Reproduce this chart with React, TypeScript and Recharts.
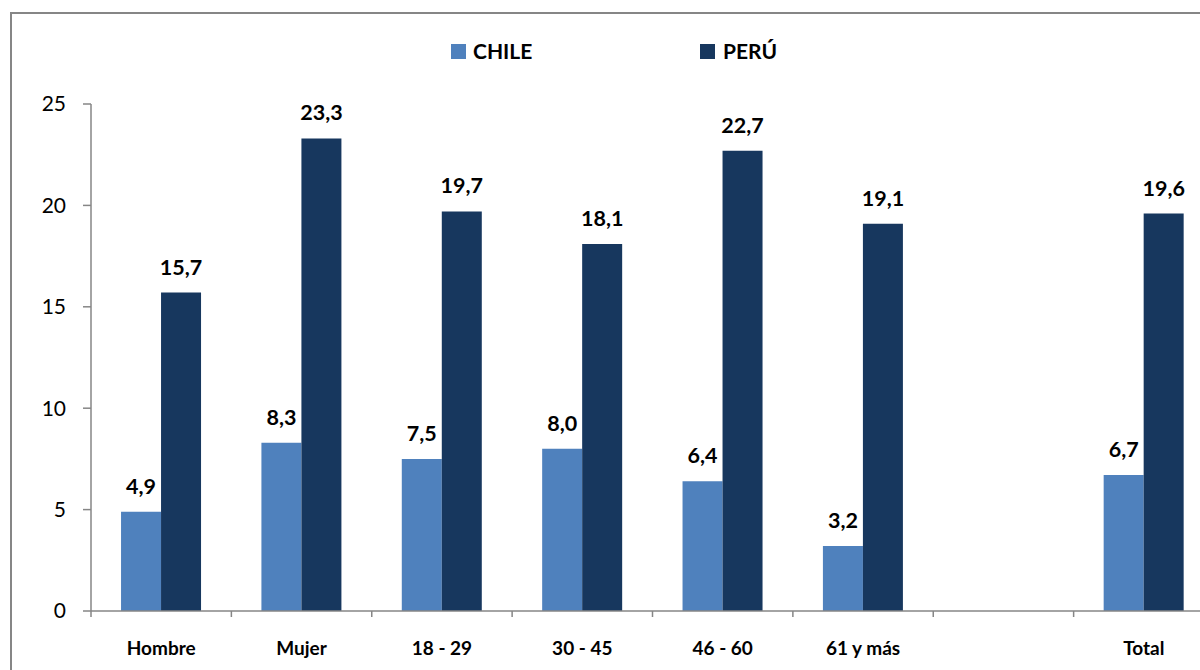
import React from "react";
import { BarChart, Bar, XAxis, YAxis, LabelList, Legend } from "recharts";

const categories = ["Hombre", "Mujer", "18 - 29", "30 - 45", "46 - 60", "61 y más", "", "Total"];
const chileValues: (number | null)[] = [4.9, 8.3, 7.5, 8.0, 6.4, 3.2, null, 6.7];
const peruValues: (number | null)[] = [15.7, 23.3, 19.7, 18.1, 22.7, 19.1, null, 19.6];
const yTicks = [0, 5, 10, 15, 20, 25];

const data = categories.map((c, i) => ({ name: c, chile: chileValues[i], peru: peruValues[i] }));

const FONT = "Lato, 'Open Sans', sans-serif";
const AXIS = "#868686";
const CHILE = "#4F81BD";
const PERU = "#17375E";

const fmt = (v: any) => (v == null ? "" : Number(v).toFixed(1).replace(".", ","));

const XTick = (props: any) => {
  const { x, y, payload, width, visibleTicksCount } = props;
  const half = width / visibleTicksCount / 2;
  return (
    <g>
      <line x1={x - half} x2={x - half} y1={y - 6} y2={y} stroke={AXIS} strokeWidth={1.5} />
      <text x={x} y={y + 31} dy="0.35em" textAnchor="middle" fontFamily={FONT} fontWeight="bold" fontSize={19} fill="#000">
        {payload.value}
      </text>
    </g>
  );
};

const ValueLabel = (props: any) => {
  const { x, y, width, value } = props;
  if (value == null) return null;
  return (
    <text x={x + width / 2} y={y - 18} textAnchor="middle" fontFamily={FONT} fontWeight="bold" fontSize={21.5} fill="#000">
      {fmt(value)}
    </text>
  );
};

const LegendContent = () => (
  <div style={{ position: "relative", height: 0 }}>
    <div style={{ position: "absolute", left: 451, top: 44, width: 15, height: 15, background: CHILE }} />
    <div style={{ position: "absolute", left: 473, top: 38, fontFamily: FONT, fontWeight: "bold", fontSize: 21, lineHeight: "26px", color: "#000" }}>CHILE</div>
    <div style={{ position: "absolute", left: 700, top: 44, width: 15, height: 15, background: PERU }} />
    <div style={{ position: "absolute", left: 723, top: 38, fontFamily: FONT, fontWeight: "bold", fontSize: 21, lineHeight: "26px", color: "#000" }}>PERÚ</div>
  </div>
);

export default function App() {
  return (
    <div style={{ position: "fixed", left: 0, top: 0, width: 1200, height: 670, overflow: "hidden", background: "#fff" }}>
      <div style={{ position: "absolute", left: 10, top: 12, width: 1300, height: 800, border: `2px solid ${AXIS}`, boxSizing: "border-box" }} />
      <div style={{ position: "absolute", left: 0, top: 0 }}>
        <BarChart width={1214} height={670} data={data} margin={{ top: 104, right: 0, bottom: 0, left: 0 }} barCategoryGap="21.4%" barGap={0}>
          <Legend verticalAlign="top" wrapperStyle={{ left: 0, top: 0, width: 1214, height: 0 }} content={() => <LegendContent />} />
          <XAxis dataKey="name" height={59} interval={0} tickLine={false} tickSize={6} tickMargin={0} axisLine={{ stroke: AXIS, strokeWidth: 1.5 }} tick={<XTick />} />
          <YAxis width={91} domain={[0, 25]} ticks={yTicks} interval={0} tickSize={8} tickMargin={17} axisLine={{ stroke: AXIS, strokeWidth: 1.5 }} tickLine={{ stroke: AXIS, strokeWidth: 1.5 }} tick={{ fontFamily: FONT, fontSize: 21, fill: "#000" }} />
          <Bar dataKey="chile" name="CHILE" fill={CHILE} isAnimationActive={false}>
            <LabelList dataKey="chile" content={<ValueLabel />} />
          </Bar>
          <Bar dataKey="peru" name="PERÚ" fill={PERU} isAnimationActive={false}>
            <LabelList dataKey="peru" content={<ValueLabel />} />
          </Bar>
        </BarChart>
      </div>
    </div>
  );
}
